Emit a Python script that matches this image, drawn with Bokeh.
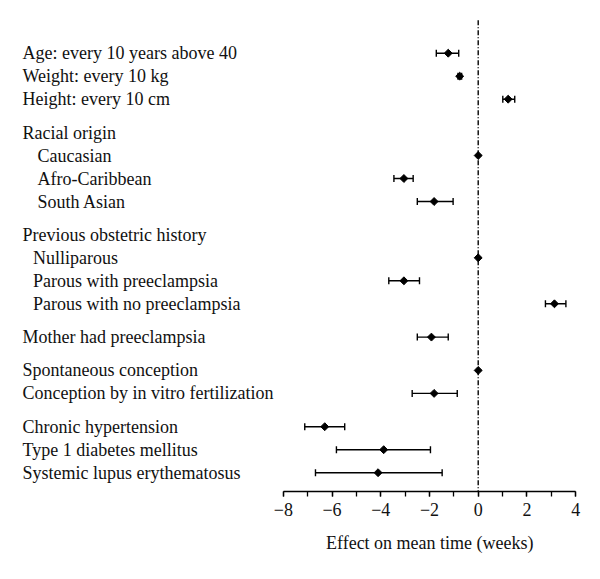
import numpy as np
from bokeh.plotting import figure
from bokeh.models import Range1d, FixedTicker, Whisker, TeeHead, ColumnDataSource, Title
from bokeh.core.properties import value
from bokeh.embed import file_html
from bokeh.resources import INLINE

# ---------------- data ----------------
labels = [
    "Age: every 10 years above 40",
    "Weight: every 10 kg",
    "Height: every 10 cm",
    "Racial origin",
    "Caucasian",
    "Afro-Caribbean",
    "South Asian",
    "Previous obstetric history",
    "Nulliparous",
    "Parous with preeclampsia",
    "Parous with no preeclampsia",
    "Mother had preeclampsia",
    "Spontaneous conception",
    "Conception by in vitro fertilization",
    "Chronic hypertension",
    "Type 1 diabetes mellitus",
    "Systemic lupus erythematosus",
]
group = [0, 0, 0, 1, 1, 1, 1, 2, 2, 2, 2, 3, 4, 4, 5, 5, 5]
level = [0, 0, 0, 0, 2, 2, 2, 0, 1, 1, 1, 0, 0, 0, 0, 0, 0]
nan = np.nan
estimate = [-1.23, -0.76, 1.23, nan, 0.0, -3.05, -1.81, nan, 0.0, -3.05, 3.13,
            -1.92, 0.0, -1.81, -6.30, -3.88, -4.11]
ci_low = [-1.72, -0.83, 1.01, nan, nan, -3.46, -2.50, nan, nan, -3.67, 2.76,
          -2.50, nan, -2.71, -7.12, -5.82, -6.68]
ci_high = [-0.80, -0.68, 1.50, nan, nan, -2.67, -1.03, nan, nan, -2.41, 3.60,
           -1.23, nan, -0.86, -5.48, -1.96, -1.48]
major_ticks = [-8, -6, -4, -2, 0, 2, 4]
minor_ticks = list(range(-8, 5))
x_title = "Effect on mean time (weeks)"

# ---------------- layout ----------------
W, H = 592, 571
BOTTOM = 80
FRAME_H = H - BOTTOM
PX_PER_UNIT = 24.36
ZERO_PX = 477.7          # x of zero inside the frame
X0 = -ZERO_PX / PX_PER_UNIT
X1 = X0 + W / PX_PER_UNIT

ROW_H = 23.0
GAP = 10.3
FIRST = 52.7
ys = []
for i, g in enumerate(group):
    ys.append(FIRST + i * ROW_H + g * GAP)
indent_px = {0: 22, 1: 32.5, 2: 37}
offsets = [indent_px[l] for l in level]

FONT = value("Liberation Serif")
FS = "18px"
TXT = "#111111"

p = figure(width=W, height=H, output_backend="svg", toolbar_location=None,
           x_range=Range1d(X0, X1), y_range=Range1d(FRAME_H, 0),
           y_axis_type=None, min_border_left=0, min_border_right=0,
           min_border_top=0, min_border_bottom=BOTTOM)
p.outline_line_color = None
p.xgrid.visible = False
p.ygrid.visible = False
p.background_fill_color = "white"

# labels
p.text(x=[X0] * len(labels), y=ys, text=labels, x_offset=offsets,
       text_baseline="middle", text_align="left", text_font=FONT,
       text_font_size=FS, text_color=TXT)

# reference line at zero
p.segment(x0=[0], y0=[ys[0] - 33], x1=[0], y1=[FRAME_H], line_color="black",
          line_width=1.4, line_dash="5 2 1 2")

# confidence intervals
ci_idx = [i for i in range(len(labels)) if not np.isnan(ci_low[i])]
ci_src = ColumnDataSource(dict(
    y=[ys[i] for i in ci_idx],
    lo=[ci_low[i] for i in ci_idx],
    hi=[ci_high[i] for i in ci_idx],
))
wh = Whisker(source=ci_src, base="y", lower="lo", upper="hi", dimension="width",
             line_color="black", line_width=1.4,
             upper_head=TeeHead(size=7, line_width=1.4, line_color="black"),
             lower_head=TeeHead(size=7, line_width=1.4, line_color="black"))
p.add_layout(wh)

# point estimates
pt_idx = [i for i in range(len(labels)) if not np.isnan(estimate[i])]
p.scatter(x=[estimate[i] for i in pt_idx], y=[ys[i] for i in pt_idx],
          marker="square", angle=np.pi / 4, size=5.6, color="black")

# axis
ax = p.xaxis[0]
ax.bounds = (major_ticks[0], major_ticks[-1])
ax.ticker = FixedTicker(ticks=major_ticks, minor_ticks=minor_ticks)
ax.major_label_overrides = {t: (("\u2212" + str(abs(t))) if t < 0 else str(t)) for t in major_ticks}
ax.major_tick_in = 0
ax.major_tick_out = 5
ax.minor_tick_in = 0
ax.minor_tick_out = 5
ax.axis_line_width = 1.3
ax.major_tick_line_width = 1.3
ax.minor_tick_line_width = 1.3
ax.axis_line_color = "black"
ax.major_tick_line_color = "black"
ax.minor_tick_line_color = "black"
ax.major_label_text_font = "Liberation Serif"
ax.major_label_text_font_size = FS
ax.major_label_text_color = TXT
ax.major_label_standoff = 6

# axis title centred under the drawn axis (not the whole frame)
TITLE_W = 207
axis_mid_px = ZERO_PX + PX_PER_UNIT * (major_ticks[0] + major_ticks[-1]) / 2
t = Title(text=x_title, align="left", offset=axis_mid_px - TITLE_W / 2,
          text_font="Liberation Serif", text_font_size=FS,
          text_font_style="normal", text_color=TXT, standoff=24)
p.add_layout(t, "below")

open("out.html", "w").write(file_html(p, INLINE))
